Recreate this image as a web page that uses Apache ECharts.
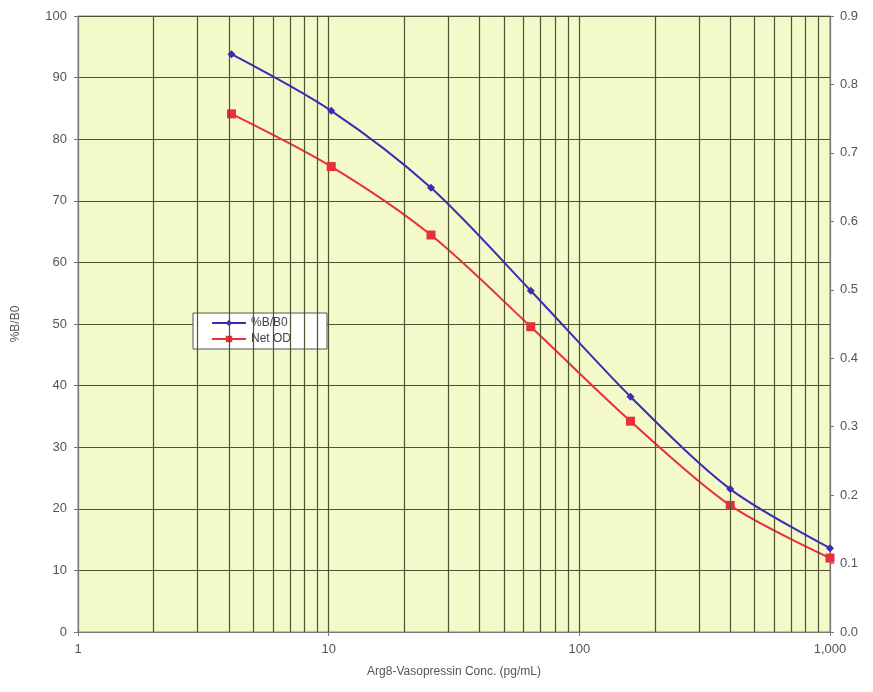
<!DOCTYPE html>
<html><head><meta charset="utf-8">
<script src="https://cdn.jsdelivr.net/npm/echarts@6/dist/echarts.min.js"></script>
<style>html,body{margin:0;padding:0;background:#fff}#c{width:873px;height:692px}</style>
</head><body><div id="c"></div>
<script>
const conc = [4.096, 10.24, 25.6, 64, 160, 400, 1000];
const pctBB0 = [93.8, 84.6, 72.1, 55.4, 38.2, 23.2, 13.6];
const netOD = [0.757, 0.680, 0.580, 0.446, 0.308, 0.185, 0.108];
const minorGrid = [2,3,4,5,6,7,8,9,20,30,40,50,60,70,80,90,200,300,400,500,600,700,800,900];
const gridColor = '#4e5535';
const chart = echarts.init(document.getElementById('c'));
chart.setOption({
  animation: false,
  backgroundColor: '#fff',
  grid: {left: 78, right: 43, top: 16, bottom: 60, show: true, backgroundColor: '#f3f9c8', borderColor: '#888', borderWidth: 1},
  legend: {
    orient: 'vertical', left: 193, top: 313, backgroundColor: '#fff', borderColor: '#555', borderWidth: 1,
    padding: [4, 36, 4, 18], itemGap: 4, itemWidth: 34, itemHeight: 8,
    textStyle: {fontFamily: 'Liberation Sans', fontSize: 12, color: '#444'},
    data: ['%B/B0', 'Net OD']
  },
  xAxis: {
    type: 'log', logBase: 10, min: 1, max: 1000,
    name: 'Arg8-Vasopressin Conc. (pg/mL)', nameLocation: 'middle', nameGap: 34,
    nameTextStyle: {fontFamily: 'Liberation Sans', fontSize: 12, color: '#555'},
    axisLine: {lineStyle: {color: '#777'}},
    axisTick: {show: true, length: 4, lineStyle: {color: '#777'}},
    axisLabel: {fontFamily: 'Liberation Sans', fontSize: 13, color: '#555', margin: 11,
      formatter: v => v >= 1000 ? v.toLocaleString('en-US') : String(v)},
    splitLine: {show: true, lineStyle: {color: gridColor, width: 1.2}}
  },
  yAxis: [{
    type: 'value', min: 0, max: 100, interval: 10,
    name: '%B/B0', nameLocation: 'middle', nameGap: 56, nameRotate: 90,
    nameTextStyle: {fontFamily: 'Liberation Sans', fontSize: 12, color: '#555'},
    axisLine: {show: true, lineStyle: {color: '#777'}},
    axisTick: {show: true, length: 4, lineStyle: {color: '#777'}},
    axisLabel: {fontFamily: 'Liberation Sans', fontSize: 13, color: '#555', margin: 11},
    splitLine: {show: true, lineStyle: {color: gridColor, width: 1.2}}
  }, {
    type: 'value', min: 0, max: 0.9, interval: 0.1, position: 'right',
    axisLine: {show: true, lineStyle: {color: '#777'}},
    axisTick: {show: true, length: 4, lineStyle: {color: '#777'}},
    axisLabel: {fontFamily: 'Liberation Sans', fontSize: 13, color: '#555', margin: 10, formatter: v => v.toFixed(1)},
    splitLine: {show: false}
  }],
  series: [{
    name: 'minor', type: 'line', data: [], silent: true, legendHoverLink: false,
    markLine: {silent: true, symbol: 'none', label: {show: false},
      lineStyle: {color: gridColor, type: 'solid', width: 1.2},
      data: minorGrid.map(v => ({xAxis: v}))}
  }, {
    name: '%B/B0', type: 'line', yAxisIndex: 0, smooth: 0.3,
    data: conc.map((c, i) => [c, pctBB0[i]]),
    symbol: 'diamond', symbolSize: 8,
    itemStyle: {color: '#3a2db0'}, lineStyle: {color: '#3a2db0', width: 2}, z: 5
  }, {
    name: 'Net OD', type: 'line', yAxisIndex: 1, smooth: 0.3,
    data: conc.map((c, i) => [c, netOD[i]]),
    symbol: 'rect', symbolSize: 9,
    itemStyle: {color: '#e8303a'}, lineStyle: {color: '#e8303a', width: 2}, z: 4
  }]
});
</script></body></html>
